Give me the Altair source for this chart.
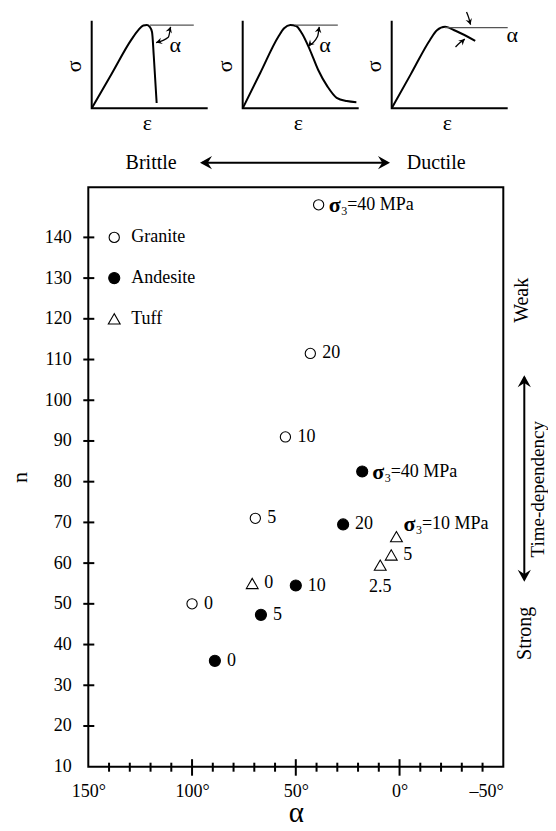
import altair as alt
import pandas as pd

FONT = "Liberation Serif"

# ---------------- main scatter data ----------------
rocks = ["Granite", "Andesite", "Tuff"]
granite_alpha = [100, 69.5, 55, 43, 39]
granite_n = [50, 71, 91, 111.5, 148]
granite_labels = ["0", "5", "10", "20", "σ₃=40 MPa"]
andesite_alpha = [89, 66.8, 50, 27.2, 18]
andesite_n = [36, 47.3, 54.5, 69.5, 82.5]
andesite_labels = ["0", "5", "10", "20", "σ₃=40 MPa"]
tuff_alpha = [71, 9.3, 4, 1.5]
tuff_n = [55, 59.5, 62, 66.5]
tuff_labels = ["0", "2.5", "5", "σ₃=10 MPa"]

legend_labels = ["Granite", "Andesite", "Tuff"]
legend_n = [140, 130, 120]
legend_alpha = [137.5, 137.5, 137.5]

x_label_values = [150, 100, 50, 0, -50]
x_minor_ticks = [140, 130, 120, 110, 90, 80, 70, 60, 40, 30, 20, 10, -10, -20, -30, -40]
x_major_ticks = [100, 50, 0]
y_label_values = [10, 20, 30, 40, 50, 60, 70, 80, 90, 100, 110, 120, 130, 140]
y_tick_values = [20, 30, 40, 50, 60, 70, 80, 90, 100, 110, 120, 130, 140]

# ---------------- stress-strain sketches (normalised axes 0..1) ----------------
sk1_curve_x = [0, 0.17, 0.345, 0.40, 0.445, 0.475, 0.50, 0.52, 0.535, 0.56]
sk1_curve_y = [0, 0.39, 0.79, 0.89, 0.945, 0.95, 0.93, 0.87, 0.60, 0.06]
sk1_hline_x = [0.50, 0.88]
sk1_hline_y = [0.95, 0.95]
sk1_arc_x = [0.68, 0.66, 0.555]
sk1_arc_y = [0.93, 0.81, 0.75]
sk1_heads_x = [0.68, 0.555]
sk1_heads_y = [0.93, 0.75]
sk1_heads_a = [288, 163]
sk1_alpha_pos = (0.72, 0.72)

sk2_curve_x = [0, 0.15, 0.307, 0.357, 0.41, 0.46, 0.51, 0.58, 0.65, 0.73, 0.81, 0.898, 0.98]
sk2_curve_y = [0, 0.40, 0.817, 0.913, 0.95, 0.94, 0.856, 0.665, 0.44, 0.25, 0.12, 0.083, 0.07]
sk2_hline_x = [0.45, 0.82]
sk2_hline_y = [0.95, 0.95]
sk2_arc_x = [0.66, 0.645, 0.565]
sk2_arc_y = [0.93, 0.82, 0.71]
sk2_heads_x = [0.66, 0.565]
sk2_heads_y = [0.93, 0.71]
sk2_heads_a = [281, 134]
sk2_alpha_pos = (0.71, 0.72)

sk3_curve_x = [0, 0.165, 0.33, 0.39, 0.46, 0.55, 0.72]
sk3_curve_y = [0, 0.39, 0.78, 0.89, 0.93, 0.885, 0.77]
sk3_hline_x = [0.46, 1.0]
sk3_hline_y = [0.92, 0.92]
sk3_arc1_x = [0.645, 0.665, 0.68]
sk3_arc1_y = [1.10, 1.03, 0.955]
sk3_arc2_x = [0.55, 0.59, 0.63]
sk3_arc2_y = [0.70, 0.75, 0.79]
sk3_heads_x = [0.68, 0.63]
sk3_heads_y = [0.955, 0.79]
sk3_heads_a = [72, 318]
sk3_alpha_pos = (1.04, 0.84)

ARROW = "M0,0 L-2,-1.1 L-1.3,0 L-2,1.1 Z"

# ---------------- geometry ----------------
W, H = 415, 579.4
SK_W, SK_H = 116, 87.6
SK_BOTTOM = -79.0

df = pd.DataFrame({
    "rock": ["Granite"] * 5 + ["Andesite"] * 5 + ["Tuff"] * 4,
    "alpha": granite_alpha + andesite_alpha + tuff_alpha,
    "n": granite_n + andesite_n + tuff_n,
    "label": granite_labels + andesite_labels + tuff_labels,
})
leg_df = pd.DataFrame({"rock": legend_labels, "alpha": legend_alpha, "n": legend_n})

xs = alt.Scale(domain=[150, -50], nice=False, zero=False)
ys = alt.Scale(domain=[10, 152.3], nice=False, zero=False)

x_axis = alt.Axis(
    values=x_label_values, ticks=False, domain=False, grid=False,
    labelFont=FONT, labelFontSize=18, labelColor="black", labelPadding=16,
    labelExpr="datum.value < 0 ? '–' + abs(datum.value) + '°' : datum.value + '°'",
    labelAlign={"condition": {"test": "datum.value < 0", "value": "right"}, "value": "center"},
    labelOverlap=False, labelFlush=False,
    titleFont=FONT, titleFontSize=29, titleFontWeight="normal", titleColor="black", titlePadding=-2,
)
y_axis = alt.Axis(
    values=y_label_values, ticks=False, domain=False, grid=False,
    labelFont=FONT, labelFontSize=18, labelColor="black", labelPadding=17,
    labelOverlap=False,
    titleFont=FONT, titleFontSize=22, titleFontWeight="normal", titleColor="black", titlePadding=13,
)

X = alt.X("alpha:Q", scale=xs, title="α")
Y = alt.Y("n:Q", scale=ys, title="n")
SHAPE = alt.Shape("rock:N", scale=alt.Scale(domain=rocks, range=["circle", "circle", "triangle-up"]),
                  legend=None)
FILL = alt.Fill("rock:N", scale=alt.Scale(domain=rocks, range=["white", "black", "white"]), legend=None)
SIZE = alt.Size("rock:N", scale=alt.Scale(domain=rocks, range=[105, 140, 190]), legend=None)

points = alt.Chart(df).mark_point(opacity=1, stroke="black", strokeWidth=1.1).encode(
    x=alt.X("alpha:Q", scale=xs, axis=x_axis, title="α"),
    y=alt.Y("n:Q", scale=ys, axis=y_axis, title="n"),
    shape=SHAPE, fill=FILL, size=SIZE,
)
leg_pts = alt.Chart(leg_df).mark_point(opacity=1, stroke="black", strokeWidth=1.1).encode(
    x=X, y=Y, shape=SHAPE, fill=FILL, size=SIZE)
leg_txt = alt.Chart(leg_df).mark_text(font=FONT, fontSize=18, color="black", align="left",
                                      baseline="middle", dx=17).encode(x=X, y=Y, text="rock:N")

txt = dict(font=FONT, fontSize=18, color="black", baseline="middle")
lab_std = alt.Chart(df).transform_filter(
    "datum.label != '2.5' && indexof(datum.label, 'σ') < 0"
).mark_text(align="left", dx=12, **txt).encode(x=X, y=Y, text="label:N")
lab_25 = alt.Chart(df).transform_filter("datum.label == '2.5'").mark_text(
    align="center", dy=22, **txt).encode(x=X, y=Y, text="label:N")

sig = alt.Chart(df).transform_filter("indexof(datum.label, 'σ') >= 0").transform_calculate(
    rest="replace(datum.label, 'σ₃', '')", s="'σ'", sub="'3'")


def sig_layer(test, dx, dy):
    base = sig.transform_filter(test)
    return [
        base.mark_text(align="left", dx=dx, dy=dy, font=FONT, fontSize=22, fontWeight="bold",
                       color="black", baseline="middle").encode(x=X, y=Y, text="s:N"),
        base.mark_text(align="left", dx=dx + 12.5, dy=dy + 6, font=FONT, fontSize=12, color="black",
                       baseline="middle").encode(x=X, y=Y, text="sub:N"),
        base.mark_text(align="left", dx=dx + 18.5, dy=dy, font=FONT, fontSize=18, color="black",
                       baseline="middle").encode(x=X, y=Y, text="rest:N"),
    ]


sig_layers = sig_layer("datum.rock != 'Tuff'", 10, 0) + sig_layer("datum.rock == 'Tuff'", 7, -13)

y_ticks = alt.Chart(pd.DataFrame({"n": y_tick_values})).mark_rule(color="black", strokeWidth=2).encode(
    y=Y, x=alt.value(-5), x2=alt.value(6))
x_minor = alt.Chart(pd.DataFrame({"alpha": x_minor_ticks})).mark_rule(color="black", strokeWidth=2).encode(
    x=X, y=alt.value(H - 4), y2=alt.value(H + 5))
x_major = alt.Chart(pd.DataFrame({"alpha": x_major_ticks})).mark_rule(color="black", strokeWidth=2).encode(
    x=X, y=alt.value(H - 7.5), y2=alt.value(H + 9))

main = alt.layer(points, leg_pts, leg_txt, lab_std, lab_25, *sig_layers, y_ticks, x_minor, x_major)


def sketch(left, curve_x, curve_y, hline_x, hline_y, arcs, heads_x, heads_y, heads_a, alpha_pos,
           head_size=36):
    sx = alt.Scale(domain=[0, 1], range=[left, left + SK_W], nice=False, zero=False)
    sy = alt.Scale(domain=[0, 1], range=[SK_BOTTOM, SK_BOTTOM - SK_H], nice=False, zero=False)
    XX = alt.X("x:Q", scale=sx, axis=None)
    YY = alt.Y("y:Q", scale=sy, axis=None)
    layers = []
    ax = pd.DataFrame({"x": [0, 0, 1], "y": [1, 0, 0], "o": [0, 1, 2]})
    layers.append(alt.Chart(ax).mark_line(color="black", strokeWidth=2).encode(x=XX, y=YY, order="o:Q"))
    cv = pd.DataFrame({"x": curve_x, "y": curve_y, "o": list(range(len(curve_x)))})
    layers.append(alt.Chart(cv).mark_line(color="black", strokeWidth=2, interpolate="monotone").encode(
        x=XX, y=YY, order="o:Q"))
    hl = pd.DataFrame({"x": hline_x, "y": hline_y})
    layers.append(alt.Chart(hl).mark_line(color="#555555", strokeWidth=1.2).encode(x=XX, y=YY))
    for ax_, ay_ in arcs:
        ar = pd.DataFrame({"x": ax_, "y": ay_, "o": list(range(len(ax_)))})
        layers.append(alt.Chart(ar).mark_line(color="black", strokeWidth=1.3, interpolate="monotone").encode(
            x=XX, y=YY, order="o:Q"))
    hd = pd.DataFrame({"x": heads_x, "y": heads_y, "a": heads_a})
    layers.append(alt.Chart(hd).mark_point(shape=ARROW, filled=True, color="black", opacity=1,
                                           size=head_size).encode(
        x=XX, y=YY, angle=alt.Angle("a:Q", scale=None)))
    t1 = pd.DataFrame({"x": [alpha_pos[0], 0.48], "y": [alpha_pos[1], -0.17], "t": ["α", "ε"]})
    layers.append(alt.Chart(t1).mark_text(font=FONT, fontSize=22, color="black", align="center",
                                          baseline="middle").encode(x=XX, y=YY, text="t:N"))
    t2 = pd.DataFrame({"x": [-0.155], "y": [0.48], "t": ["σ"]})
    layers.append(alt.Chart(t2).mark_text(font=FONT, fontSize=22, color="black", align="center",
                                          baseline="middle", angle=270).encode(x=XX, y=YY, text="t:N"))
    return alt.layer(*layers)


sk1 = sketch(3.4, sk1_curve_x, sk1_curve_y, sk1_hline_x, sk1_hline_y, [(sk1_arc_x, sk1_arc_y)],
             sk1_heads_x, sk1_heads_y, sk1_heads_a, sk1_alpha_pos)
sk2 = sketch(154.4, sk2_curve_x, sk2_curve_y, sk2_hline_x, sk2_hline_y, [(sk2_arc_x, sk2_arc_y)],
             sk2_heads_x, sk2_heads_y, sk2_heads_a, sk2_alpha_pos)
sk3 = sketch(303.4, sk3_curve_x, sk3_curve_y, sk3_hline_x, sk3_hline_y,
             [(sk3_arc1_x, sk3_arc1_y), (sk3_arc2_x, sk3_arc2_y)],
             sk3_heads_x, sk3_heads_y, sk3_heads_a, sk3_alpha_pos)

# ---------------- annotations ----------------
one = pd.DataFrame({"k": [0]})


def label(text, x, y, align="center", angle=0, size=20):
    return alt.Chart(pd.DataFrame({"t": [text]})).mark_text(
        font=FONT, fontSize=size, color="black", align=align, baseline="middle", angle=angle
    ).encode(x=alt.value(x), y=alt.value(y), text="t:N")


def head(x, y, ang, size=144):
    return alt.Chart(one).mark_point(shape=ARROW, filled=True, color="black", opacity=1, size=size,
                                     angle=ang).encode(x=alt.value(x), y=alt.value(y))


ann = [
    label("Brittle", 88.4, -24.6, align="right"),
    label("Ductile", 318.4, -24.6, align="left"),
    alt.Chart(one).mark_rule(color="black", strokeWidth=2).encode(
        x=alt.value(114), x2=alt.value(299), y=alt.value(-24.6)),
    head(111.7, -24.6, 180),
    head(301.7, -24.6, 0),
    label("Weak", 433.5, 113, angle=270),
    label("Time-dependency", 449.8, 302, angle=270, size=19),
    label("Strong", 436.7, 446, angle=270),
    alt.Chart(one).mark_rule(color="black", strokeWidth=2).encode(
        y=alt.value(190), y2=alt.value(392), x=alt.value(436)),
    head(436, 188, 270),
    head(436, 394.4, 90),
]

chart = alt.layer(main, sk1, sk2, sk3, *ann).resolve_scale(
    x="independent", y="independent"
).properties(
    width=W, height=H,
    autosize=alt.AutoSizeParams(type="none"),
    padding={"left": 80.3, "top": 179.3, "right": 44.7, "bottom": 56.3},
    background="white",
).configure_view(stroke="black", strokeWidth=2)

chart.save("out.html", embed_options={"renderer": "svg", "actions": False})
